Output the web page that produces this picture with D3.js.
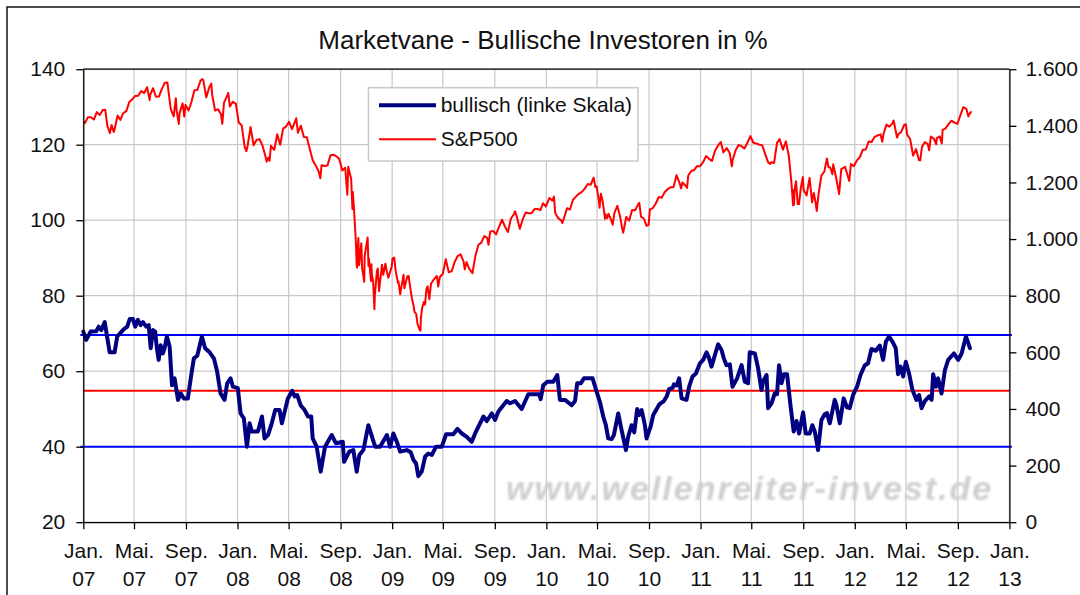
<!DOCTYPE html>
<html><head><meta charset="utf-8">
<script src="https://cdn.jsdelivr.net/npm/d3@7"></script>
<style>body{margin:0;background:#fff}svg{display:block;font-family:"Liberation Sans",Arial,sans-serif}</style>
</head><body><svg id="c" width="1080" height="595"></svg>
<script>
const title = "Marketvane - Bullische Investoren in %";
const seriesNames = ["bullisch (linke Skala)", "S&P500"];
const watermark = "www.wellenreiter-invest.de";
const leftTicks = [20, 40, 60, 80, 100, 120, 140];
const rightTicks = [0, 200, 400, 600, 800, 1000, 1200, 1400, 1600];
const monthNames = {0: "Jan.", 4: "Mai.", 8: "Sep."};
const levelValues = [69.6, 54.8, 40.0];

const spDates = [
"2007-01-03","2007-01-05","2007-01-12","2007-01-19","2007-01-26","2007-02-02","2007-02-09","2007-02-16","2007-02-22","2007-02-27",
"2007-03-02","2007-03-05","2007-03-09","2007-03-14","2007-03-16","2007-03-23","2007-03-30","2007-04-05","2007-04-13","2007-04-20",
"2007-04-27","2007-05-04","2007-05-11","2007-05-18","2007-05-25","2007-06-01","2007-06-07","2007-06-08","2007-06-15","2007-06-22",
"2007-06-29","2007-07-06","2007-07-13","2007-07-19","2007-07-27","2007-08-03","2007-08-08","2007-08-10","2007-08-15","2007-08-17",
"2007-08-24","2007-08-28","2007-08-31","2007-09-07","2007-09-14","2007-09-21","2007-09-28","2007-10-05","2007-10-09","2007-10-12",
"2007-10-19","2007-10-26","2007-10-31","2007-11-02","2007-11-09","2007-11-16","2007-11-23","2007-11-26","2007-11-30","2007-12-07",
"2007-12-10","2007-12-14","2007-12-21","2007-12-28",
"2008-01-04","2008-01-11","2008-01-18","2008-01-22","2008-01-25","2008-02-01","2008-02-08","2008-02-15","2008-02-22","2008-02-29",
"2008-03-07","2008-03-10","2008-03-14","2008-03-17","2008-03-20","2008-03-28","2008-04-04","2008-04-11","2008-04-18","2008-04-25",
"2008-05-02","2008-05-09","2008-05-19","2008-05-23","2008-05-30","2008-06-06","2008-06-13","2008-06-20","2008-06-27","2008-07-03",
"2008-07-11","2008-07-15","2008-07-18","2008-07-25","2008-08-01","2008-08-08","2008-08-15","2008-08-22","2008-08-29","2008-09-05",
"2008-09-12","2008-09-15","2008-09-17","2008-09-19","2008-09-26","2008-09-29","2008-09-30","2008-10-03","2008-10-07","2008-10-09",
"2008-10-10","2008-10-13","2008-10-15","2008-10-20","2008-10-22","2008-10-27","2008-10-28","2008-10-31","2008-11-04","2008-11-06",
"2008-11-07","2008-11-12","2008-11-13","2008-11-14","2008-11-17","2008-11-20","2008-11-21","2008-11-26","2008-11-28","2008-12-01",
"2008-12-08","2008-12-11","2008-12-16","2008-12-19","2008-12-23","2008-12-31",
"2009-01-02","2009-01-06","2009-01-09","2009-01-15","2009-01-16","2009-01-20","2009-01-23","2009-01-28","2009-01-30","2009-02-06",
"2009-02-09","2009-02-13","2009-02-17","2009-02-20","2009-02-23","2009-02-27","2009-03-02","2009-03-06","2009-03-09","2009-03-10",
"2009-03-13","2009-03-17","2009-03-20","2009-03-23","2009-03-26","2009-03-30","2009-04-03","2009-04-09","2009-04-17","2009-04-20",
"2009-04-24","2009-05-01","2009-05-08","2009-05-15","2009-05-22","2009-05-29","2009-06-05","2009-06-12","2009-06-19","2009-06-22",
"2009-06-26","2009-07-02","2009-07-10","2009-07-17","2009-07-24","2009-07-31","2009-08-07","2009-08-14","2009-08-17","2009-08-21",
"2009-08-28","2009-09-04","2009-09-11","2009-09-18","2009-09-25","2009-10-02","2009-10-09","2009-10-16","2009-10-19","2009-10-23",
"2009-10-30","2009-11-06","2009-11-13","2009-11-20","2009-11-27","2009-12-04","2009-12-11","2009-12-18","2009-12-24","2009-12-31",
"2010-01-08","2010-01-15","2010-01-19","2010-01-22","2010-01-29","2010-02-05","2010-02-08","2010-02-12","2010-02-19","2010-02-26",
"2010-03-05","2010-03-12","2010-03-19","2010-03-26","2010-04-02","2010-04-09","2010-04-16","2010-04-23","2010-04-27","2010-04-30",
"2010-05-06","2010-05-07","2010-05-10","2010-05-14","2010-05-20","2010-05-21","2010-05-25","2010-05-28","2010-06-04","2010-06-07",
"2010-06-11","2010-06-18","2010-06-25","2010-06-29","2010-07-02","2010-07-09","2010-07-16","2010-07-23","2010-07-30","2010-08-06",
"2010-08-09","2010-08-13","2010-08-20","2010-08-26","2010-08-31","2010-09-03","2010-09-10","2010-09-17","2010-09-24","2010-10-01",
"2010-10-08","2010-10-15","2010-10-22","2010-10-29","2010-11-05","2010-11-12","2010-11-16","2010-11-19","2010-11-26","2010-11-30",
"2010-12-03","2010-12-10","2010-12-17","2010-12-23","2010-12-31",
"2011-01-07","2011-01-14","2011-01-21","2011-01-28","2011-02-04","2011-02-11","2011-02-18","2011-02-24","2011-03-04","2011-03-11",
"2011-03-16","2011-03-18","2011-03-25","2011-04-01","2011-04-08","2011-04-15","2011-04-21","2011-04-29","2011-05-06","2011-05-13",
"2011-05-20","2011-05-27","2011-06-03","2011-06-10","2011-06-15","2011-06-17","2011-06-24","2011-07-01","2011-07-07","2011-07-15",
"2011-07-22","2011-07-29","2011-08-04","2011-08-08","2011-08-09","2011-08-10","2011-08-12","2011-08-15","2011-08-19","2011-08-22",
"2011-08-26","2011-08-31","2011-09-02","2011-09-09","2011-09-16","2011-09-22","2011-09-26","2011-09-30","2011-10-03","2011-10-07",
"2011-10-14","2011-10-21","2011-10-27","2011-10-31","2011-11-04","2011-11-09","2011-11-11","2011-11-18","2011-11-25","2011-11-30",
"2011-12-09","2011-12-19","2011-12-23","2011-12-30",
"2012-01-06","2012-01-13","2012-01-20","2012-01-27","2012-02-03","2012-02-10","2012-02-17","2012-02-24","2012-03-02","2012-03-06",
"2012-03-09","2012-03-16","2012-03-23","2012-03-30","2012-04-02","2012-04-10","2012-04-13","2012-04-20","2012-04-27","2012-05-01",
"2012-05-04","2012-05-11","2012-05-18","2012-05-25","2012-06-01","2012-06-04","2012-06-08","2012-06-15","2012-06-22","2012-06-25",
"2012-06-29","2012-07-06","2012-07-12","2012-07-13","2012-07-20","2012-07-25","2012-07-27","2012-08-03","2012-08-10","2012-08-17",
"2012-08-24","2012-08-31","2012-09-07","2012-09-14","2012-09-21","2012-09-26","2012-09-28","2012-10-03"];
const spValues = [
1416.6,1409.7,1430.7,1430.5,1422.2,1448.4,1438.1,1455.5,1456.4,1399.0,
1387.2,1374.1,1402.8,1377.9,1386.9,1436.1,1420.9,1443.8,1452.9,1484.4,
1494.1,1505.6,1505.9,1522.8,1515.7,1536.3,1490.7,1507.7,1532.9,1502.6,
1503.4,1530.4,1552.5,1553.1,1458.9,1433.1,1497.5,1453.6,1406.7,1445.9,
1479.4,1432.4,1474.0,1453.6,1484.3,1525.8,1526.8,1557.6,1565.2,1561.8,
1500.6,1535.3,1549.4,1509.7,1453.7,1458.7,1440.7,1407.2,1481.1,1504.7,
1516.0,1468.0,1484.5,1478.5,
1411.6,1401.0,1325.2,1310.5,1330.6,1395.4,1331.3,1350.0,1353.1,1330.6,
1293.4,1273.4,1288.1,1276.6,1329.5,1315.2,1370.4,1332.8,1390.3,1397.8,
1413.9,1388.3,1426.6,1375.9,1400.4,1360.7,1360.0,1317.9,1278.4,1262.9,
1239.5,1214.9,1260.7,1257.8,1260.3,1296.3,1298.2,1292.2,1282.8,1242.3,
1251.7,1192.7,1156.4,1255.1,1213.3,1106.4,1166.4,1099.2,996.2,909.9,
899.2,1003.4,907.8,985.4,896.8,848.9,940.5,968.8,1005.8,904.9,
931.0,852.3,911.3,873.3,850.8,752.4,800.0,887.7,896.2,816.2,
909.7,873.6,913.2,887.9,863.2,903.3,
931.8,934.7,890.4,843.7,850.1,805.2,832.0,874.1,825.9,868.6,
869.9,826.8,789.2,770.1,743.3,735.1,700.8,683.4,676.5,719.6,
756.6,778.1,768.5,822.9,832.9,787.5,842.5,856.6,869.6,832.4,
866.2,877.5,929.2,882.9,887.0,919.1,940.1,946.2,921.2,893.0,
918.9,896.4,879.1,940.4,979.3,987.5,1010.5,1004.1,979.7,1026.1,
1028.9,1016.4,1042.7,1068.3,1044.4,1025.2,1071.5,1087.7,1097.9,1079.6,
1036.2,1069.3,1093.5,1091.4,1091.5,1106.0,1106.4,1102.5,1126.5,1115.1,
1145.0,1136.0,1150.2,1091.8,1073.9,1066.2,1056.7,1075.5,1109.2,1104.5,
1138.7,1150.0,1159.9,1166.6,1178.1,1194.4,1192.1,1217.3,1183.7,1186.7,
1128.2,1110.9,1159.7,1135.7,1071.6,1087.7,1074.0,1089.4,1064.9,1050.5,
1091.6,1117.5,1076.8,1041.2,1022.6,1078.0,1064.9,1102.7,1101.6,1121.6,
1127.8,1079.3,1071.7,1047.2,1049.3,1104.5,1109.6,1125.6,1148.7,1146.2,
1165.2,1176.2,1183.1,1183.3,1225.9,1199.2,1178.3,1199.7,1189.4,1180.6,
1224.7,1240.4,1243.9,1256.8,1257.6,
1271.5,1293.2,1283.4,1276.3,1310.9,1329.2,1343.0,1306.1,1321.2,1304.3,
1256.9,1279.2,1313.8,1332.4,1328.2,1319.7,1337.4,1363.6,1340.2,1337.8,
1333.3,1331.1,1300.2,1271.0,1265.4,1271.5,1268.5,1339.7,1353.2,1316.1,
1345.0,1292.3,1200.1,1119.5,1172.5,1120.8,1178.8,1204.5,1123.5,1123.8,
1176.8,1218.9,1174.0,1154.2,1216.0,1129.6,1163.0,1131.4,1099.2,1155.5,
1224.6,1238.3,1284.6,1253.3,1253.2,1229.1,1263.9,1215.7,1158.7,1247.0,
1255.2,1205.4,1265.3,1257.6,
1277.8,1289.1,1315.4,1316.3,1344.9,1342.6,1361.2,1365.7,1370.0,1343.4,
1370.9,1404.2,1397.1,1408.5,1419.0,1358.6,1370.3,1378.5,1403.4,1405.8,
1369.1,1353.4,1295.2,1317.8,1278.0,1278.2,1325.7,1342.8,1335.0,1313.7,
1362.2,1354.7,1334.8,1356.8,1362.7,1337.9,1386.0,1391.0,1405.9,1418.2,
1411.1,1406.6,1437.9,1465.8,1460.2,1433.3,1440.7,1451.0];

const bullYears = [
2007.000,2007.019,2007.048,2007.084,2007.100,2007.117,2007.139,2007.149,2007.171,2007.203,
2007.220,2007.257,2007.285,2007.301,2007.322,2007.337,2007.354,2007.372,2007.387,2007.408,
2007.424,2007.437,2007.452,2007.466,2007.476,2007.489,2007.501,2007.516,2007.527,2007.542,
2007.560,2007.575,2007.592,2007.614,2007.631,2007.652,2007.678,2007.700,2007.717,2007.739,
2007.769,2007.790,2007.819,2007.847,2007.868,2007.890,2007.916,2007.933,2007.955,2007.970,
2008.002,2008.020,2008.041,2008.061,2008.078,2008.093,2008.132,2008.158,2008.175,2008.197,
2008.218,2008.244,2008.272,2008.287,2008.305,2008.326,2008.354,2008.370,2008.386,2008.408,
2008.434,2008.456,2008.477,2008.486,2008.512,2008.538,2008.566,2008.609,2008.637,2008.681,
2008.689,2008.723,2008.749,2008.771,2008.788,2008.814,2008.846,2008.890,2008.922,2008.966,
2008.987,2009.008,2009.034,2009.052,2009.095,2009.121,2009.138,2009.155,2009.170,2009.192,
2009.214,2009.235,2009.257,2009.285,2009.322,2009.350,2009.397,2009.423,2009.452,2009.484,
2009.516,2009.538,2009.592,2009.614,2009.646,2009.667,2009.689,2009.743,2009.765,2009.797,
2009.840,2009.883,2009.954,2009.963,2009.980,2010.006,2010.045,2010.071,2010.088,2010.121,
2010.142,2010.164,2010.186,2010.200,2010.223,2010.244,2010.300,2010.326,2010.347,2010.369,
2010.386,2010.401,2010.423,2010.438,2010.466,2010.488,2010.516,2010.531,2010.553,2010.570,
2010.589,2010.602,2010.618,2010.639,2010.650,2010.676,2010.693,2010.732,2010.762,2010.780,
2010.797,2010.819,2010.827,2010.845,2010.861,2010.877,2010.909,2010.926,2010.948,2010.970,
2010.996,2011.017,2011.039,2011.054,2011.071,2011.093,2011.114,2011.136,2011.151,2011.168,
2011.190,2011.207,2011.237,2011.266,2011.287,2011.308,2011.319,2011.352,2011.373,2011.395,
2011.405,2011.428,2011.438,2011.460,2011.481,2011.496,2011.509,2011.525,2011.540,2011.561,
2011.583,2011.604,2011.622,2011.639,2011.665,2011.682,2011.708,2011.725,2011.741,2011.762,
2011.784,2011.805,2011.820,2011.838,2011.870,2011.881,2011.903,2011.928,2011.950,2011.967,
2011.989,2012.015,2012.037,2012.064,2012.086,2012.108,2012.136,2012.162,2012.183,2012.201,
2012.222,2012.244,2012.265,2012.280,2012.296,2012.313,2012.330,2012.351,2012.373,2012.399,
2012.416,2012.432,2012.453,2012.481,2012.497,2012.507,2012.525,2012.539,2012.561,2012.583,
2012.604,2012.641,2012.669,2012.691,2012.719,2012.745];
const bullValues = [
70.5,68.3,70.5,70.6,71.8,70.9,73.0,70.5,65.0,65.0,
69.2,70.9,71.8,73.8,73.8,71.8,73.6,72.2,73.0,71.8,
72.2,66.1,70.9,70.5,66.5,63.0,66.9,64.7,66.1,69.2,
66.5,56.3,58.1,52.4,54.1,52.8,52.8,59.0,63.4,64.1,
69.2,66.1,65.0,63.4,59.9,54.1,52.4,56.8,58.1,55.9,
55.5,48.8,47.5,40.0,46.2,44.0,44.0,48.0,42.2,43.1,
45.7,49.7,49.7,46.2,49.3,52.8,54.8,53.3,53.7,51.0,
49.7,48.0,48.0,42.2,40.0,33.4,40.0,43.1,40.9,41.3,
36.0,38.7,39.1,33.4,37.8,39.1,45.7,40.0,40.0,43.1,
40.0,43.5,40.9,38.7,39.1,38.5,36.5,35.6,32.2,33.4,
37.4,38.2,37.8,40.0,40.0,43.3,43.3,44.7,43.5,42.6,
41.3,43.5,48.0,46.8,48.8,47.1,49.3,52.1,51.5,52.1,
50.0,53.9,53.9,52.6,56.3,57.2,57.2,59.0,52.4,52.4,
51.7,51.0,52.1,56.8,56.8,58.1,58.1,54.6,51.9,48.0,
45.7,42.2,42.0,43.1,48.8,44.4,39.1,42.7,45.7,43.8,
50.0,48.4,49.7,45.7,42.2,45.3,48.4,51.2,52.1,53.3,
55.3,55.6,56.5,56.2,58.1,52.8,52.4,55.9,58.6,59.4,
62.1,63.0,65.0,63.6,61.2,64.3,67.1,65.6,63.4,61.6,
61.8,55.9,58.1,61.6,57.2,56.8,65.0,64.7,60.8,55.0,
57.2,59.0,50.2,51.5,54.1,53.9,61.6,56.8,59.2,59.2,
51.0,44.0,46.8,43.5,49.1,43.5,43.5,45.7,44.0,39.1,
47.1,48.6,48.9,46.2,52.4,51.0,46.2,52.8,50.4,50.2,
53.7,55.9,59.0,61.5,62.1,65.9,65.4,66.8,63.0,67.8,
69.2,67.8,66.1,59.2,61.2,58.6,62.5,59.4,55.0,52.4,
53.7,50.2,52.1,53.3,52.4,59.2,55.9,58.1,54.1,60.3,
63.0,64.7,63.0,64.7,69.2,66.1];

// ---------- drawing ----------
const parse = d3.timeParse("%Y-%m-%d");
function yearToDate(v) {
  const yr = Math.floor(v);
  const a = new Date(yr, 0, 1), b = new Date(yr + 1, 0, 1);
  return new Date(a.getTime() + (v - yr) * (b - a));
}
const spData = spDates.map((d, i) => ({date: parse(d), v: spValues[i]}));
const bullData = bullYears.map((d, i) => ({date: yearToDate(d), v: bullValues[i]}));

const svg = d3.select("#c");
const P = {l: 83.3, r: 1009.4, t: 69.2, b: 522.2};
const FS = 21;
const x = d3.scaleTime().domain([new Date(2007, 0, 1), new Date(2013, 0, 1)]).range([P.l, P.r]);
const yL = d3.scaleLinear().domain([20, 140]).range([P.b, P.t]);
const yR = d3.scaleLinear().domain([0, 1600]).range([P.b, P.t]);
const de = d3.formatLocale({decimal: ",", thousands: ".", grouping: [3], currency: ["", " €"]});
const fmtR = de.format(",");

svg.append("rect").attr("width", 1080).attr("height", 595).attr("fill", "#fff");
// outer frame
svg.append("rect").attr("x", 7).attr("y", 7).attr("width", 1200).attr("height", 800)
  .attr("fill", "none").attr("stroke", "#111").attr("stroke-width", 1.5);

// title
svg.append("text").attr("x", 543).attr("y", 49).attr("text-anchor", "middle")
  .attr("font-size", 26).attr("fill", "#111").text(title);

const xTicks = x.ticks(d3.timeMonth.every(4));
const grid = svg.append("g").attr("stroke", "#c8c8c8").attr("stroke-width", 1.2);
grid.selectAll(".h").data(leftTicks).join("line")
  .attr("x1", P.l).attr("x2", P.r).attr("y1", d => yL(d)).attr("y2", d => yL(d));
grid.selectAll(".v").data(xTicks).join("line")
  .attr("x1", d => x(d)).attr("x2", d => x(d)).attr("y1", P.t).attr("y2", P.b);

// watermark
const defs = svg.append("defs");
defs.append("filter").attr("id", "blur").append("feGaussianBlur").attr("stdDeviation", 0.8);
svg.append("text").attr("x", 506).attr("y", 500).attr("font-size", 34)
  .attr("font-weight", "bold").attr("font-style", "italic").attr("letter-spacing", 2)
  .attr("fill", "#cfcfcf").attr("filter", "url(#blur)").text(watermark);

// S&P line
svg.append("path").datum(spData)
  .attr("d", d3.line().x(d => x(d.date)).y(d => yR(d.v)))
  .attr("fill", "none").attr("stroke", "#ff0000").attr("stroke-width", 2).attr("stroke-linejoin", "round");

// level lines
const levelColor = ["#0000ff", "#ff0000", "#0000ff"];
svg.selectAll(".lvl").data(levelValues).join("line")
  .attr("x1", (d, i) => levelColor[i] === "#0000ff" ? P.l - 3 : P.l)
  .attr("x2", (d, i) => levelColor[i] === "#0000ff" ? P.r + 2.5 : P.r)
  .attr("y1", d => yL(d)).attr("y2", d => yL(d))
  .attr("stroke", (d, i) => levelColor[i]).attr("stroke-width", 2);

// bullish line
svg.append("path").datum(bullData)
  .attr("d", d3.line().x(d => x(d.date)).y(d => yL(d.v)))
  .attr("fill", "none").attr("stroke", "#000080").attr("stroke-width", 4)
  .attr("stroke-linejoin", "round").attr("stroke-linecap", "round");

// plot frame top
svg.append("line").attr("x1", P.l).attr("x2", P.r).attr("y1", P.t).attr("y2", P.t)
  .attr("stroke", "#000").attr("stroke-width", 1.3);

function styleAxis(g) {
  g.selectAll("path,line").attr("stroke", "#000").attr("stroke-width", 1.3);
  g.selectAll("text").attr("font-size", FS).attr("fill", "#111")
    .attr("font-family", '"Liberation Sans",Arial,sans-serif');
}
svg.append("g").attr("transform", `translate(${P.l},0)`)
  .call(d3.axisLeft(yL).tickValues(leftTicks).tickSize(7).tickSizeOuter(0).tickPadding(11))
  .call(styleAxis);
svg.append("g").attr("transform", `translate(${P.r},0)`)
  .call(d3.axisRight(yR).tickValues(rightTicks).tickFormat(fmtR).tickSize(7).tickSizeOuter(0).tickPadding(9))
  .call(styleAxis);
const xa = svg.append("g").attr("transform", `translate(0,${P.b})`)
  .call(d3.axisBottom(x).tickValues(xTicks).tickSize(7).tickSizeOuter(0).tickFormat(""))
  .call(styleAxis);
const fy = d3.timeFormat("%y");
xa.selectAll(".tick").append("text").attr("text-anchor", "middle")
  .attr("font-size", FS).attr("fill", "#111")
  .each(function(d) {
    const t = d3.select(this);
    t.append("tspan").attr("x", 0).attr("y", 36).text(monthNames[d.getMonth()]);
    t.append("tspan").attr("x", 0).attr("y", 64).text(fy(d));
  });

// legend
const lg = svg.append("g");
lg.append("rect").attr("x", 368.5).attr("y", 87.7).attr("width", 269.5).attr("height", 73.3)
  .attr("fill", "#fff").attr("stroke", "#c8c8c8").attr("stroke-width", 1.5);
const legendStyles = [{c: "#000080", w: 4}, {c: "#ff0000", w: 2}];
seriesNames.forEach((name, i) => {
  const yy = 105.3 + i * 34;
  lg.append("line").attr("x1", 379).attr("x2", 436).attr("y1", yy).attr("y2", yy)
    .attr("stroke", legendStyles[i].c).attr("stroke-width", legendStyles[i].w);
  lg.append("text").attr("x", 440.7).attr("y", yy + 6.5).attr("font-size", FS)
    .attr("fill", "#111").text(name);
});
</script></body></html>
